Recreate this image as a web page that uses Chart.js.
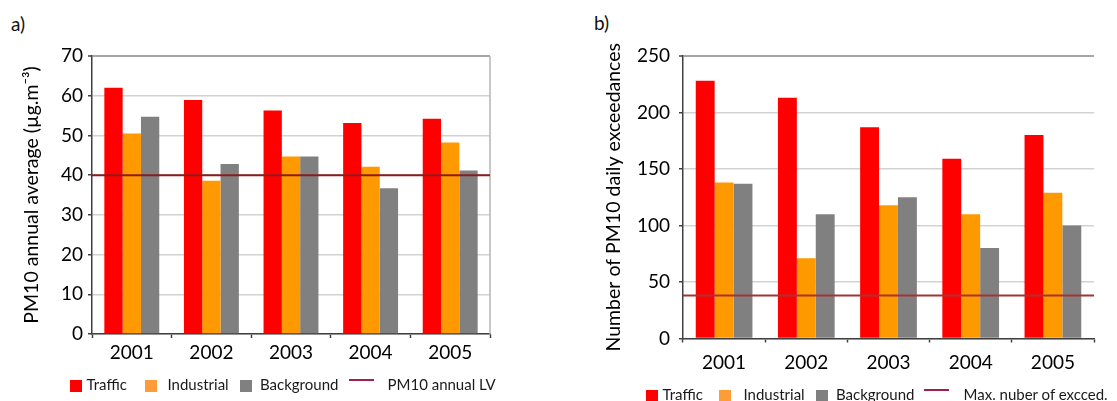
<!DOCTYPE html>
<html>
<head>
<meta charset="utf-8">
<script src="https://cdn.jsdelivr.net/npm/chart.js@4.4.1/dist/chart.umd.min.js"></script>
<style>
  html, body { margin: 0; padding: 0; background: #fff; overflow: hidden; }
  body { width: 1117px; height: 401px; position: relative; font-family: Lato, sans-serif; color: #1a1a1a; }
  .wrap { position: absolute; top: 0; }
  #wrapA { left: 0; width: 540px; height: 370px; }
  #wrapB { left: 560px; width: 557px; height: 380px; }
  .panel { position: absolute; font-size: 19px; line-height: 19px; color: #111; }
  .lbl { position: absolute; font-size: 15px; line-height: 15px; white-space: nowrap; color: #1a1a1a; }
  .sq { position: absolute; width: 12px; height: 12px; }
  .ln { position: absolute; width: 25px; height: 2px; }
</style>
</head>
<body>
<div class="panel" style="left:11px; top:14px;">a)</div>
<div class="panel" style="left:594px; top:13px;">b)</div>
<div class="wrap" id="wrapA"><canvas id="chartA"></canvas></div>
<div class="wrap" id="wrapB"><canvas id="chartB"></canvas></div>
<div id="legendA"></div>
<div id="legendB"></div>

<script>
// Categories and series names
const YEARS = ['2001', '2002', '2003', '2004', '2005'];
const SERIES = ['Traffic', 'Industrial', 'Background'];

// a) PM10 annual average (µg.m-3) per station type
const AVG_TRAFFIC    = [62.0, 58.9, 56.3, 53.1, 54.2];
const AVG_INDUSTRIAL = [50.5, 38.6, 44.7, 42.1, 48.2];
const AVG_BACKGROUND = [54.7, 42.8, 44.7, 36.7, 41.2];
const AVG_LIMIT = 40;
const AVG_LIMIT_LABEL = 'PM10 annual LV';
const AVG_AXIS = { min: 0, max: 70, step: 10 };

// b) Number of PM10 daily exceedances per station type
const EXC_TRAFFIC    = [228, 213, 187, 159, 180];
const EXC_INDUSTRIAL = [138, 71, 118, 110, 129];
const EXC_BACKGROUND = [137, 110, 125, 80, 100];
const EXC_LIMIT = 38;
const EXC_LIMIT_LABEL = 'Max. nuber of excced.';
const EXC_AXIS = { min: 0, max: 250, step: 50 };

const BAR_COLORS = ['#ff0000', '#ff9900', '#808080'];
const KEY_COLORS = ['#ff0000', '#ff9c3a', '#808080'];

Chart.defaults.font.family = 'Lato, sans-serif';
Chart.defaults.color = '#000';

// Plot-area extras: optional right frame line and the horizontal limit line,
// the latter placed through the y scale.
const plotExtras = {
  id: 'plotExtras',
  afterDatasetsDraw(chart, args, opts) {
    const { ctx, chartArea, scales } = chart;
    ctx.save();
    if (opts.frame) {
      ctx.strokeStyle = '#b4b4b4';
      ctx.lineWidth = 1.5;
      ctx.beginPath();
      ctx.moveTo(chartArea.right, chartArea.top);
      ctx.lineTo(chartArea.right, chartArea.bottom);
      ctx.stroke();
    }
    const y = scales.y.getPixelForValue(opts.limit);
    ctx.strokeStyle = opts.limitColor;
    ctx.lineWidth = 2;
    ctx.beginPath();
    ctx.moveTo(chartArea.left, y);
    ctx.lineTo(chartArea.right, y);
    ctx.stroke();
    ctx.restore();
  }
};

function makeChart(canvasId, values, limit, axis, title, lay) {
  const datasets = SERIES.map((name, i) => ({
    label: name,
    data: values[i],
    backgroundColor: BAR_COLORS[i],
    borderWidth: 0
  }));

  return new Chart(document.getElementById(canvasId), {
    type: 'bar',
    data: { labels: YEARS, datasets },
    plugins: [plotExtras],
    options: {
      responsive: true,
      maintainAspectRatio: false,
      animation: false,
      categoryPercentage: 0.69,
      barPercentage: 1.0,
      layout: { padding: { left: 0, top: 56, right: lay.padRight, bottom: 0 } },
      plugins: {
        legend: { display: false },
        tooltip: { enabled: false },
        plotExtras: { frame: lay.frame, limit: limit, limitColor: lay.limitColor }
      },
      scales: {
        x: {
          offset: true,
          grid: {
            offset: true,
            drawOnChartArea: false,
            drawTicks: true,
            tickLength: 4,
            tickColor: '#404040',
            tickWidth: 1.5
          },
          border: { display: true, color: '#404040', width: 1.5 },
          ticks: { font: { size: 19 }, color: '#000', padding: lay.xTickPad, maxRotation: 0 },
          afterFit(s) { s.height = lay.xHeight; }
        },
        y: {
          min: axis.min,
          max: axis.max,
          ticks: { stepSize: axis.step, font: { size: 19 }, color: '#000', padding: lay.yTickPad },
          grid: {
            color: c => (c.tick && c.tick.value === axis.max) ? '#a6a6a6' : '#d2d2d2',
            lineWidth: c => (c.tick && c.tick.value === axis.max) ? 2 : 1.5,
            tickLength: 4,
            tickColor: '#404040',
            tickWidth: 1.5
          },
          border: { display: true, color: '#404040', width: 1.5 },
          title: {
            display: true,
            text: title,
            font: { size: lay.titleSize },
            color: '#000',
            padding: { top: lay.titlePad, bottom: 0 }
          },
          afterFit(s) { s.width = lay.yWidth; }
        }
      }
    }
  });
}

makeChart('chartA',
  [AVG_TRAFFIC, AVG_INDUSTRIAL, AVG_BACKGROUND], AVG_LIMIT, AVG_AXIS,
  'PM10 annual average (µg.m⁻³)',
  { yWidth: 92, xHeight: 36, padRight: 50, titleSize: 19.5, titlePad: 20, yTickPad: 5, xTickPad: 3.5, limitColor: '#8c1c1c', frame: true });

makeChart('chartB',
  [EXC_TRAFFIC, EXC_INDUSTRIAL, EXC_BACKGROUND], EXC_LIMIT, EXC_AXIS,
  'Number of PM10 daily exceedances',
  { yWidth: 123, xHeight: 41.5, padRight: 23, titleSize: 19.5, titlePad: 42, yTickPad: 9, xTickPad: 8.5, limitColor: '#a83232', frame: false });

// Legends below each panel (swatch x, text x)
function buildLegend(hostId, limitLabel, top, slots) {
  const host = document.getElementById(hostId);
  const names = SERIES.concat([limitLabel]);
  names.forEach((name, i) => {
    const slot = slots[i];
    const key = document.createElement('div');
    if (i < SERIES.length) {
      key.className = 'sq';
      key.style.left = slot[0] + 'px';
      key.style.top = top + 'px';
      key.style.background = KEY_COLORS[i];
    } else {
      key.className = 'ln';
      key.style.left = slot[0] + 'px';
      key.style.top = (top - 1) + 'px';
      key.style.background = '#a0204a';
    }
    host.appendChild(key);
    const txt = document.createElement('div');
    txt.className = 'lbl';
    txt.style.left = slot[1] + 'px';
    txt.style.top = (top - 2.5) + 'px';
    txt.textContent = name;
    host.appendChild(txt);
  });
}

buildLegend('legendA', AVG_LIMIT_LABEL, 379.5, [[70, 86.5], [144.5, 167.5], [240, 260], [348.5, 387.5]]);
buildLegend('legendB', EXC_LIMIT_LABEL, 389.5, [[646, 662.5], [719, 743.5], [816, 836], [924, 963.5]]);
</script>
</body>
</html>
